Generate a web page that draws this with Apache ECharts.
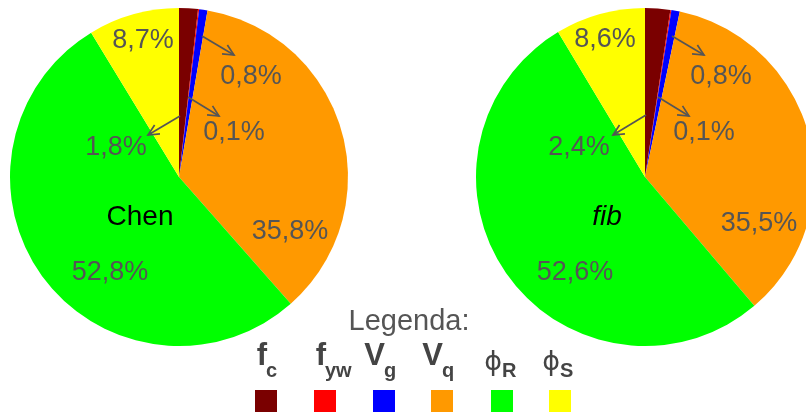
<!DOCTYPE html>
<html>
<head>
<meta charset="utf-8">
<style>
  html, body { margin: 0; padding: 0; background: #fff; }
  #chart { width: 806px; height: 414px; }
</style>
<script src="https://cdn.jsdelivr.net/npm/echarts@6/dist/echarts.min.js"></script>
</head>
<body>
<div id="chart"></div>
<script>
// Share of each variable in the total (percent), two models
const categories = ['fc', 'fyw', 'Vg', 'Vq', 'phiR', 'phiS'];
const chenValues = [1.8, 0.1, 0.8, 35.8, 52.8, 8.7];
const fibValues = [2.4, 0.1, 0.8, 35.5, 52.6, 8.6];
const seriesNames = ['Chen', 'fib'];

// Legend symbols: main glyph + subscript
const legendMain = ['f', 'f', 'V', 'V', '\u03D5', '\u03D5'];
const legendSub = ['c', 'yw', 'g', 'q', 'R', 'S'];
const legendTitle = 'Legenda:';

const colors = ['#7a0000', '#ff0000', '#0000ff', '#ff9900', '#00ff00', '#ffff00'];

// Layout
const RADIUS = 169;
const centers = [[179, 177], [645, 177]];
const FONT = 'Liberation Sans, Arial, Helvetica, sans-serif';
const TEXT_GREY = '#555555';

// Label positions relative to each pie centre (px)
const labelOffsets = [
  [[-63, -29], [55, -44], [72, -100], [111, 55], [-69, 96], [-36, -136]],
  [[-66, -29], [59, -44], [76, -100], [114, 47], [-70, 96], [-40, -137]]
];
// Arrows (from slice to label) relative to each pie centre
const arrowOffsets = [
  [[[23, -141], [55, -122]], [[9, -80], [40, -61]], [[1, -61], [-31, -42]]],
  [[[27, -141], [59, -122]], [[13, -80], [44, -61]], [[1, -62], [-32, -42]]]
];
const nameOffsets = [[-39, 40], [-38, 40]];

function fmt(v) {
  return v.toFixed(1).replace('.', ',') + '%';
}

function pieSeries(idx, values) {
  return {
    type: 'pie',
    name: seriesNames[idx],
    center: centers[idx],
    radius: RADIUS,
    startAngle: 90,
    clockwise: true,
    animation: false,
    silent: true,
    avoidLabelOverlap: false,
    itemStyle: { borderWidth: 0 },
    label: {
      show: true,
      position: 'inside',
      formatter: p => fmt(p.value),
      color: TEXT_GREY,
      fontFamily: FONT,
      fontSize: 27
    },
    labelLine: { show: false },
    labelLayout: p => {
      const o = labelOffsets[idx][p.dataIndex];
      return {
        x: centers[idx][0] + o[0],
        y: centers[idx][1] + o[1],
        align: 'center',
        verticalAlign: 'middle'
      };
    },
    data: categories.map((c, i) => ({
      name: c,
      value: values[i],
      itemStyle: { color: colors[i] }
    }))
  };
}

// Arrow from a slice to its label: shaft plus open head
function arrow(cx, cy, a, b) {
  const x1 = cx + a[0], y1 = cy + a[1], x2 = cx + b[0], y2 = cy + b[1];
  const ang = Math.atan2(y2 - y1, x2 - x1);
  const h = 12, spread = 0.45;
  const p1 = [x2 - h * Math.cos(ang - spread), y2 - h * Math.sin(ang - spread)];
  const p2 = [x2 - h * Math.cos(ang + spread), y2 - h * Math.sin(ang + spread)];
  const style = { stroke: TEXT_GREY, lineWidth: 1.7, fill: null };
  return [
    { type: 'line', z: 100, shape: { x1, y1, x2, y2 }, style, silent: true },
    { type: 'polyline', z: 100, shape: { points: [p1, [x2, y2], p2] }, style, silent: true }
  ];
}

const graphics = [];
centers.forEach((c, i) => {
  arrowOffsets[i].forEach(ar => graphics.push(...arrow(c[0], c[1], ar[0], ar[1])));
  graphics.push({
    type: 'text',
    z: 100,
    x: c[0] + nameOffsets[i][0],
    y: c[1] + nameOffsets[i][1],
    silent: true,
    style: {
      text: seriesNames[i],
      fill: '#000',
      font: (i === 1 ? 'italic ' : '') + '28px ' + FONT,
      textAlign: 'center',
      textVerticalAlign: 'middle'
    }
  });
});

// Legend block
graphics.push({
  type: 'text', x: 409, y: 322, z: 100, silent: true,
  style: {
    text: legendTitle, fill: TEXT_GREY, font: '29px ' + FONT,
    textAlign: 'center', textVerticalAlign: 'middle'
  }
});
const legendX = [266, 325, 384, 442, 502, 560];
legendMain.forEach((m, i) => {
  const isPhi = i >= 4;
  const mainFont = isPhi ? '27px DejaVu Sans, sans-serif' : 'bold 31px ' + FONT;
  const subFont = 'bold 20px ' + FONT;
  graphics.push({
    type: 'group',
    x: legendX[i], y: 0, z: 100,
    children: [
      {
        type: 'text', x: isPhi ? 0 : 1, y: isPhi ? 376 : 372, silent: true,
        style: { text: m, fill: '#444', font: mainFont, textAlign: 'right', textVerticalAlign: 'bottom' }
      },
      {
        type: 'text', x: 0, y: 381, silent: true,
        style: { text: legendSub[i], fill: '#444', font: subFont, textAlign: 'left', textVerticalAlign: 'bottom' }
      }
    ]
  });
  graphics.push({
    type: 'rect', silent: true, z: 100,
    shape: { x: legendX[i] - 11, y: 390, width: 22, height: 22 },
    style: { fill: colors[i] }
  });
});

const chart = echarts.init(document.getElementById('chart'), null, { renderer: 'canvas' });
chart.setOption({
  backgroundColor: '#fff',
  animation: false,
  series: [pieSeries(0, chenValues), pieSeries(1, fibValues)],
  graphic: graphics
});
</script>
</body>
</html>
